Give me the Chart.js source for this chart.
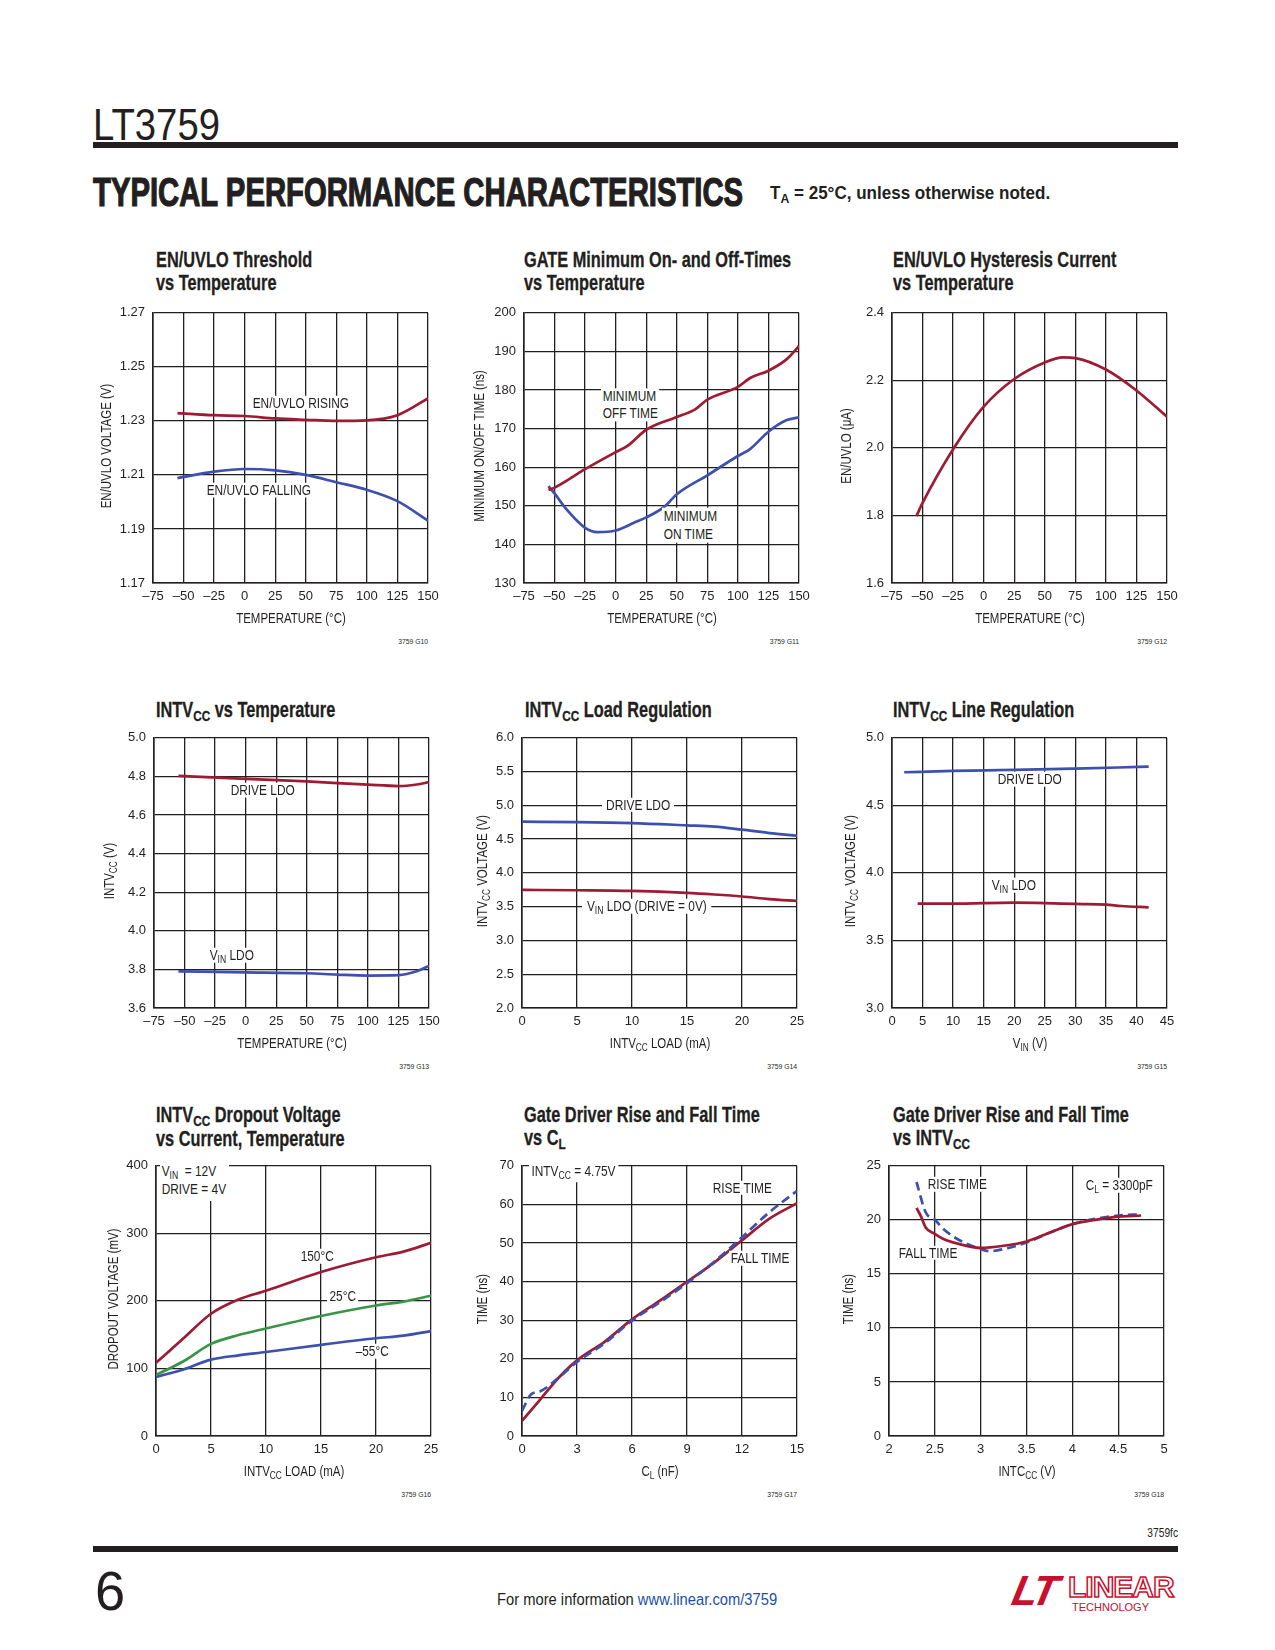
<!DOCTYPE html>
<html><head><meta charset="utf-8">
<script src="https://cdn.jsdelivr.net/npm/chart.js@4/dist/chart.umd.min.js"></script>
<style>
body{margin:0;background:#fff;}
#page{position:relative;width:1275px;height:1650px;overflow:hidden;background:#fff;
  font-family:"Liberation Sans Narrow","Liberation Sans",Arial,sans-serif;color:#231f20;}
.a{position:absolute;white-space:nowrap;line-height:1;}
.t{font-weight:bold;font-size:21.5px;line-height:23px;transform:scaleX(.76);transform-origin:0 0;-webkit-text-stroke:0.3px #231f20;}
.s{font-size:72%;position:relative;top:0.32em;}
.lab{font-size:14.5px;background:#fff;transform:translateY(-50%) scaleX(.82);transform-origin:0 50%;z-index:3;padding:0 2px;}
.xt{font-size:14px;transform:translate(-50%,-50%) scaleX(.82);z-index:3;}
.yt{font-size:14px;transform:translate(-50%,-50%) rotate(-90deg) scaleX(.82);z-index:3;}
.code{font-size:8px;transform:translate(-100%,-50%) scaleX(.85);transform-origin:100% 50%;}
</style></head>
<body><div id="page"></div>
<script>
// ---------------- DATA ----------------
const tempTicks = [-75,-50,-25,0,25,50,75,100,125,150];

const c1Temp    = [-55,-25,0,25,50,75,100,125,150];
const c1Rising  = [1.2329,1.2321,1.2318,1.2309,1.2304,1.2300,1.2302,1.2321,1.2383];
const c1Falling = [1.2088,1.2112,1.2122,1.2117,1.2100,1.2073,1.2045,1.2003,1.1931];
const c1YTicks  = [1.17,1.19,1.21,1.23,1.25,1.27];

const c2OffTemp = [-55,-50,-25,0,10,25,50,65,75,100,110,125,140,150];
const c2Off     = [154.1,154.7,159.5,163.9,165.6,169.7,173.0,175.0,177.5,180.8,183.1,185.0,188.0,191.4];
const c2OnTemp  = [-55,-50,-40,-25,-15,0,15,25,40,50,75,100,110,125,140,150];
const c2On      = [155.1,153.2,149.0,144.3,143.2,143.6,145.6,147.0,149.8,153.0,157.9,162.9,164.7,169.2,172.2,172.9];
const c2YTicks  = [130,140,150,160,170,180,190,200];

const c3Temp    = [-55,-50,-25,0,25,50,65,75,100,125,150];
const c3Current = [1.798,1.837,1.996,2.122,2.204,2.253,2.268,2.266,2.232,2.170,2.092];
const c3YTicks  = [1.6,1.8,2.0,2.2,2.4];

const c4Temp    = [-55,0,50,75,100,125,140,150];
const c4Drive   = [4.803,4.787,4.774,4.765,4.757,4.750,4.758,4.770];
const c4Vin     = [3.790,3.785,3.780,3.773,3.768,3.770,3.790,3.818];
const c4YTicks  = [3.6,3.8,4.0,4.2,4.4,4.6,4.8,5.0];

const c5Load    = [0,5,10,15,17.5,20,22.5,25];
const c5Drive   = [4.758,4.753,4.738,4.704,4.685,4.640,4.590,4.550];
const c5Vin     = [3.748,3.743,3.733,3.704,3.680,3.651,3.612,3.585];
const c5XTicks  = [0,5,10,15,20,25];
const c5YTicks  = [2.0,2.5,3.0,3.5,4.0,4.5,5.0,5.5,6.0];

const c6DriveVin = [2,10,20,30,37,42];
const c6Drive    = [4.745,4.755,4.762,4.772,4.780,4.787];
const c6LdoVin   = [4.2,10,20,25,30,35,37.5,42];
const c6Ldo      = [3.772,3.772,3.780,3.777,3.770,3.765,3.755,3.745];
const c6XTicks   = [0,5,10,15,20,25,30,35,40,45];
const c6YTicks   = [3.0,3.5,4.0,4.5,5.0];

const c7Load    = [0,2.5,5,7.5,10,15,20,22.5,25];
const c7T150    = [108.3,144.7,181,202,215,242.7,264.6,273,286];
const c7T25     = [90.3,110.7,136.4,149.5,159.2,177.7,193.2,199,207.7];
const c7Tm55    = [87.4,98.5,113,119.4,124.3,135,144.7,148.5,155.4];
const c7XTicks  = [0,5,10,15,20,25];
const c7YTicks  = [0,100,200,300,400];

const c8FallCl  = [0,1,2,3,4.5,6,7.5,9,10.5,12,13.5,15];
const c8Fall    = [3.9,9.5,15.1,19.6,24.4,30.2,35.0,40.0,45.0,50.7,56.3,60.3];
const c8RiseCl  = [0,0.5,1,2,3,4.5,6,7.5,9,10.5,12,13.5,15];
const c8Rise    = [6.5,10.8,11.6,15.1,19.2,24,29.9,34.6,39.6,45.2,51.5,58,63.5];
const c8XTicks  = [0,3,6,9,12,15];
const c8YTicks  = [0,10,20,30,40,50,60,70];

const c9FallV   = [2.3,2.35,2.4,2.5,2.6,2.75,3,3.25,3.5,3.75,4,4.25,4.5,4.75];
const c9Fall    = [21.1,20.3,19.3,18.7,18.2,17.8,17.4,17.6,18.0,18.8,19.6,20.0,20.3,20.4];
const c9RiseV   = [2.3,2.4,2.5,2.6,2.75,3,3.1,3.25,3.5,3.75,4,4.5,4.75];
const c9Rise    = [23.5,20.7,20.0,19.1,18.2,17.3,17.1,17.3,17.9,18.8,19.6,20.4,20.5];
const c9XTicks  = [2,2.5,3,3.5,4,4.5,5];
const c9YTicks  = [0,5,10,15,20,25];

// ---------------- RENDER ----------------
const page = document.getElementById('page');
const FONT = "'Liberation Sans',Arial,sans-serif";
const INK = '#231f20', RED = '#9e1b34', BLUE = '#3e50ae', GREEN = '#3a9448';
const PL = 60, PR = 22, PT = 12, PB = 30;
const fx = d => v => Number(v).toFixed(d);
const fd = v => String(v).replace('-', '\u2013');

function el(html, cls, x, y, extra){
  const d = document.createElement('div');
  d.className = 'a ' + (cls||'');
  d.style.left = x + 'px'; d.style.top = y + 'px';
  if (extra) d.style.cssText += extra;
  d.innerHTML = html; page.appendChild(d); return d;
}

function plot(c){
  const cv = document.createElement('canvas');
  const W = c.w + PL + PR, H = c.h + PT + PB;
  cv.width = W; cv.height = H;
  cv.style.cssText = `position:absolute;left:${c.left-PL}px;top:${c.top-PT}px;width:${W}px;height:${H}px;z-index:1`;
  page.appendChild(cv);
  const axis = (ticks, fmt, isX, mn, mx) => ({
    type:'linear', min:mn, max:mx,
    afterBuildTicks: a => { a.ticks = ticks.map(v => ({value:v})); },
    afterFit: a => { if (isX) a.height = PB; else a.width = PL; },
    grid:{color:INK, lineWidth:1.3, drawTicks:false},
    border:{color:INK, width:1.6},
    ticks:{padding:isX?6:8, color:INK, font:{family:FONT, size:13}, maxRotation:0, autoSkip:false,
           callback: v => fmt(v)}
  });
  new Chart(cv, {
    type:'line',
    data:{datasets: c.series.map(s => ({
      data: s.x.map((x,i) => ({x, y:s.y[i]})),
      borderColor:s.color, borderWidth:2.7, borderDash:s.dash||[],
      pointRadius:0, fill:false, cubicInterpolationMode:'monotone', borderCapStyle:'butt'
    }))},
    options:{
      responsive:false, animation:false,
      layout:{padding:{top:PT, right:PR, left:0, bottom:0}, autoPadding:false},
      plugins:{legend:{display:false}, tooltip:{enabled:false}},
      scales:{
        x: axis(c.xTicks, c.xFmt, true, c.xTicks[0], c.xTicks[c.xTicks.length-1]),
        y: axis(c.yTicks, c.yFmt, false, c.yTicks[0], c.yTicks[c.yTicks.length-1])
      }
    }
  });
  el(c.xTitle, 'xt', c.left + c.w/2, c.top + c.h + 35);
  el(c.yTitle, 'yt', c.left - c.yOff, c.top + c.h/2);
  el(c.code, 'code', c.left + c.w, c.top + c.h + 59);
}

const W = 275, H = 274;
const R1 = 309, R2 = 733.5, R3 = 1162;

plot({left:153, top:R1, w:W, h:H, xTicks:tempTicks, xFmt:fd, yTicks:c1YTicks, yFmt:fx(2),
  xTitle:'TEMPERATURE (°C)', yTitle:'EN/UVLO VOLTAGE (V)', yOff:47, code:'3759 G10',
  series:[{x:c1Temp, y:c1Rising, color:RED},{x:c1Temp, y:c1Falling, color:BLUE}]});
plot({left:524, top:R1, w:W, h:H, xTicks:tempTicks, xFmt:fd, yTicks:c2YTicks, yFmt:fd,
  xTitle:'TEMPERATURE (°C)', yTitle:'MINIMUM ON/OFF TIME (ns)', yOff:45, code:'3759 G11',
  series:[{x:c2OffTemp, y:c2Off, color:RED},{x:c2OnTemp, y:c2On, color:BLUE}]});
plot({left:892, top:R1, w:W, h:H, xTicks:tempTicks, xFmt:fd, yTicks:c3YTicks, yFmt:fx(1),
  xTitle:'TEMPERATURE (°C)', yTitle:'EN/UVLO (μA)', yOff:46, code:'3759 G12',
  series:[{x:c3Temp, y:c3Current, color:RED}]});

plot({left:154, top:R2, w:W, h:H, xTicks:tempTicks, xFmt:fd, yTicks:c4YTicks, yFmt:fx(1),
  xTitle:'TEMPERATURE (°C)', yTitle:'INTV<span class="s">CC</span> (V)', yOff:45, code:'3759 G13',
  series:[{x:c4Temp, y:c4Drive, color:RED},{x:c4Temp, y:c4Vin, color:BLUE}]});
plot({left:522, top:R2, w:W, h:H, xTicks:c5XTicks, xFmt:fd, yTicks:c5YTicks, yFmt:fx(1),
  xTitle:'INTV<span class="s">CC</span> LOAD (mA)', yTitle:'INTV<span class="s">CC</span> VOLTAGE (V)', yOff:40, code:'3759 G14',
  series:[{x:c5Load, y:c5Drive, color:BLUE},{x:c5Load, y:c5Vin, color:RED}]});
plot({left:892, top:R2, w:W, h:H, xTicks:c6XTicks, xFmt:fd, yTicks:c6YTicks, yFmt:fx(1),
  xTitle:'V<span class="s">IN</span> (V)', yTitle:'INTV<span class="s">CC</span> VOLTAGE (V)', yOff:42, code:'3759 G15',
  series:[{x:c6DriveVin, y:c6Drive, color:BLUE},{x:c6LdoVin, y:c6Ldo, color:RED}]});

plot({left:156, top:R3, w:W, h:H, xTicks:c7XTicks, xFmt:fd, yTicks:c7YTicks, yFmt:fd,
  xTitle:'INTV<span class="s">CC</span> LOAD (mA)', yTitle:'DROPOUT VOLTAGE (mV)', yOff:43, code:'3759 G16',
  series:[{x:c7Load, y:c7T150, color:RED},{x:c7Load, y:c7T25, color:GREEN},{x:c7Load, y:c7Tm55, color:BLUE}]});
plot({left:522, top:R3, w:W, h:H, xTicks:c8XTicks, xFmt:fd, yTicks:c8YTicks, yFmt:fd,
  xTitle:'C<span class="s">L</span> (nF)', yTitle:'TIME (ns)', yOff:40, code:'3759 G17',
  series:[{x:c8RiseCl, y:c8Rise, color:BLUE, dash:[9,5]},{x:c8FallCl, y:c8Fall, color:RED}]});
plot({left:889, top:R3, w:W, h:H, xTicks:c9XTicks, xFmt:fd, yTicks:c9YTicks, yFmt:fd,
  xTitle:'INTC<span class="s">CC</span> (V)', yTitle:'TIME (ns)', yOff:41, code:'3759 G18',
  series:[{x:c9FallV, y:c9Fall, color:RED},{x:c9RiseV, y:c9Rise, color:BLUE, dash:[9,5]}]});

// chart titles
el('EN/UVLO Threshold<br>vs Temperature','t',155.5,248.5);
el('GATE Minimum On- and Off-Times<br>vs Temperature','t',524.3,248.5);
el('EN/UVLO Hysteresis Current<br>vs Temperature','t',893,248.5);
el('INTV<span class="s">CC</span> vs Temperature','t',155.5,698.5);
el('INTV<span class="s">CC</span> Load Regulation','t',524.5,698.5);
el('INTV<span class="s">CC</span> Line Regulation','t',893.3,698.5);
el('INTV<span class="s">CC</span> Dropout Voltage<br>vs Current, Temperature','t',155.5,1103.5);
el('Gate Driver Rise and Fall Time<br>vs C<span class="s">L</span>','t',524.3,1103.5);
el('Gate Driver Rise and Fall Time<br>vs INTV<span class="s">CC</span>','t',893,1103.5);

// annotations
el('EN/UVLO RISING','lab',251,402.7);
el('EN/UVLO FALLING','lab',205,490);
el('MINIMUM<br>OFF TIME','lab',601,405,'line-height:16.6px;');
el('MINIMUM<br>ON TIME','lab',662,525.3,'line-height:17.3px;');
el('DRIVE LDO','lab',229,790);
el('V<span class="s">IN</span> LDO','lab',208,955);
el('DRIVE LDO','lab',602,804.5,'padding:0 5px;');
el('V<span class="s">IN</span> LDO (DRIVE = 0V)','lab',582,906,'padding:0 6px;');
el('DRIVE LDO','lab',996,779);
el('V<span class="s">IN</span> LDO','lab',990,885);
el('V<span class="s">IN</span>&nbsp; = 12V<br>DRIVE = 4V','lab',160,1181.5,'line-height:17px;padding:0 3px 3px 2px;');
el('150°C','lab',299,1256);
el('25°C','lab',327,1296,'padding:0 3px;');
el('\u201355°C','lab',353.5,1351);
el('INTV<span class="s">CC</span> = 4.75V','lab',529,1173,'padding:0 3px 3px 3px;');
el('RISE TIME','lab',711,1187.5);
el('FALL TIME','lab',729,1258);
el('RISE TIME','lab',925.5,1184);
el('FALL TIME','lab',897,1252.5);
el('C<span class="s">L</span> = 3300pF','lab',1083.5,1185);

// header
const fits = [];
function fitEl(e, target, base){ fits.push([e, target, base||'']); }
fitEl(el('LT3759','',93,103,'font-size:44px;transform-origin:0 0;'), 127);
el('','',93,142,'width:1085px;height:6px;background:#231f20;');
fitEl(el('TYPICAL PERFORMANCE CHARACTERISTICS','',93,172,'font-size:40px;font-weight:bold;transform-origin:0 0;-webkit-text-stroke:1.2px #231f20;'), 650);
fitEl(el('T<span class="s">A</span> = 25°C, unless otherwise noted.','',770,184,'font-size:18px;font-weight:bold;transform-origin:0 0;'), 280);

// footer
el('3759fc','code',1178,1533,'font-size:12px;');
el('','',93,1546,'width:1085px;height:6px;background:#231f20;');
fitEl(el('6','',95,1563,'font-size:56px;transform-origin:0 0;'), 30);
fitEl(el('For more information <span style="color:#1c4fa8">www.linear.com/3759</span>','',497,1592,'font-size:16px;transform-origin:0 0;'), 280);
el('<i>LT</i>','',1013,1570,'font-size:42px;font-weight:bold;color:#c8102e;letter-spacing:-3px;transform:skewX(-12deg);');
el('LINEAR','',1068,1572,'font-size:30px;font-weight:bold;color:#fff;-webkit-text-stroke:1.5px #c8102e;letter-spacing:-1px;');
el('TECHNOLOGY','',1072,1602,'font-size:11px;color:#c8102e;');

function fit(){
  for (const [e, target, base] of fits){
    const w = e.offsetWidth;
    if (w > 0) e.style.transform = base + ` scaleX(${target/w})`;
  }
}
fit();
if (document.fonts && document.fonts.ready) document.fonts.ready.then(fit);
</script>
</body></html>
